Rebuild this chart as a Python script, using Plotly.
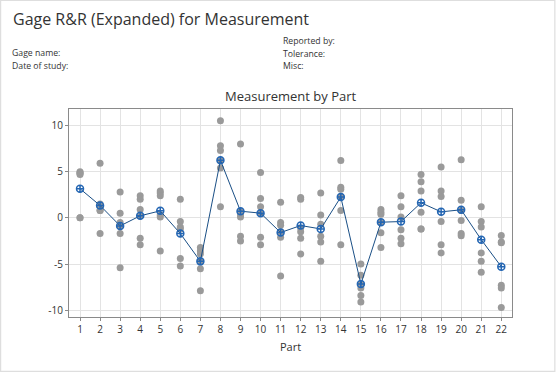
import plotly.graph_objects as go

parts = list(range(1, 23))
measurements = [
    [5.0, 4.9, 4.8, 4.7, 0.0, 0.0],
    [5.9, 1.5, 1.2, 0.8, 0.8, -1.7],
    [2.8, 0.5, -0.5, -0.9, -1.7, -5.4],
    [2.4, 2.0, 0.9, 0.2, -2.2, -2.9],
    [2.9, 2.7, 2.4, 0.3, 0.1, -3.6],
    [2.0, -0.4, -1.0, -1.2, -4.4, -5.2],
    [-3.2, -3.6, -3.9, -4.7, -5.5, -7.9],
    [10.5, 7.8, 7.3, 6.2, 5.4, 1.2],
    [8.0, 0.7, 0.4, 0.1, -2.0, -2.5],
    [4.9, 2.1, 1.2, 0.5, -2.1, -2.9],
    [1.7, -0.5, -0.8, -1.5, -2.1, -6.3],
    [2.2, 2.0, -1.1, -1.5, -2.2, -3.9],
    [2.7, 0.3, -0.7, -2.0, -2.6, -4.7],
    [6.2, 3.3, 3.1, 2.3, 0.8, -2.9],
    [-5.0, -6.2, -7.2, -7.6, -8.4, -9.1],
    [0.9, 0.6, 0.4, -0.5, -1.6, -3.2],
    [2.4, 1.2, 0.1, -1.3, -2.2, -2.8],
    [4.7, 3.9, 2.9, 0.6, -1.2, -1.2],
    [5.5, 2.9, 2.3, -0.4, -2.9, -3.8],
    [6.3, 1.9, 0.8, -0.3, -1.7, -1.95],
    [1.2, -0.4, -1.0, -3.8, -4.7, -5.9],
    [-1.9, -2.6, -2.7, -7.3, -7.6, -9.7],
]
part_means = [3.15, 1.34, -0.87, 0.22, 0.76, -1.70, -4.71, 6.23, 0.72, 0.51, -1.59,
              -0.83, -1.20, 2.25, -7.17, -0.47, -0.40, 1.63, 0.65, 0.87, -2.36, -5.29]
x_ticks = [str(p) for p in parts]
y_ticks = [-10, -5, 0, 5, 10]

px_x, px_y = [], []
for p, vals in zip(parts, measurements):
    for v in vals:
        px_x.append(p)
        px_y.append(v)

FONT = "Open Sans, Noto Sans, sans-serif"
fig = go.Figure()
fig.add_trace(go.Scatter(x=px_x, y=px_y, mode="markers",
                         marker=dict(color="#9a9a9a", size=7), hoverinfo="x+y"))
fig.add_trace(go.Scatter(x=parts, y=part_means, mode="lines+markers",
                         line=dict(color="#1a4f86", width=1),
                         marker=dict(symbol="circle-cross-open", size=7, color="#2466b3",
                                     line=dict(width=1.5, color="#2466b3"))))

W, H = 559, 373
L, R, T, B = 69.3, 511.7, 109.3, 316.7
pw, ph = R - L, B - T

fig.update_layout(
    width=W, height=H,
    margin=dict(l=L, r=W - R, t=T, b=H - B, pad=0),
    paper_bgcolor="white", plot_bgcolor="white",
    showlegend=False,
    font=dict(family=FONT, color="#333333", size=10),
    xaxis=dict(range=[0.451, 22.534], tickmode="array", tickvals=parts, ticktext=x_ticks,
               showgrid=True, gridcolor="#e3e3e3", gridwidth=1,
               showline=True, linecolor="#8a8a8a", linewidth=1, mirror=True,
               ticks="outside", ticklen=3, tickcolor="#8a8a8a",
               tickfont=dict(size=10, color="#333333"), zeroline=False,
               title=dict(text="Part", font=dict(size=11, color="#333333"), standoff=8)),
    yaxis=dict(range=[-10.73, 11.78], tickmode="array", tickvals=y_ticks,
               ticktext=[str(v) for v in y_ticks],
               showgrid=True, gridcolor="#e3e3e3", gridwidth=1,
               showline=True, linecolor="#8a8a8a", linewidth=1, mirror=True,
               ticks="outside", ticklen=3, tickcolor="#8a8a8a",
               tickfont=dict(size=10, color="#333333"), zeroline=False),
)

def xp(px):
    return (px - L) / pw

def yp(py):
    return (B - py) / ph

fig.add_shape(type="rect", xref="paper", yref="paper",
              x0=xp(1), x1=xp(554.5), y0=yp(1), y1=yp(371),
              line=dict(color="#dedede", width=1.2), fillcolor="rgba(0,0,0,0)", layer="below")

ann = [
    ("Gage R&R (Expanded) for Measurement", 11, 20, 16),
    ("Gage name:", 10, 53, 8.7),
    ("Date of study:", 10, 66, 8.7),
    ("Reported by:", 281, 41, 8.7),
    ("Tolerance:", 281, 54, 8.7),
    ("Misc:", 281, 66, 8.7),
]
for text, x, y, s in ann:
    fig.add_annotation(text=text, xref="paper", yref="paper", x=xp(x), y=yp(y),
                       xanchor="left", yanchor="middle", showarrow=False,
                       font=dict(size=s, color="#333333", family=FONT))
fig.add_annotation(text="Measurement by Part", xref="paper", yref="paper",
                   x=xp(290.5), y=yp(96), xanchor="center", yanchor="middle", showarrow=False,
                   font=dict(size=13, color="#333333", family=FONT))

fig.write_html("out.html", config={"displayModeBar": False},
               post_script="document.body.style.margin='0';document.body.style.padding='0';")
